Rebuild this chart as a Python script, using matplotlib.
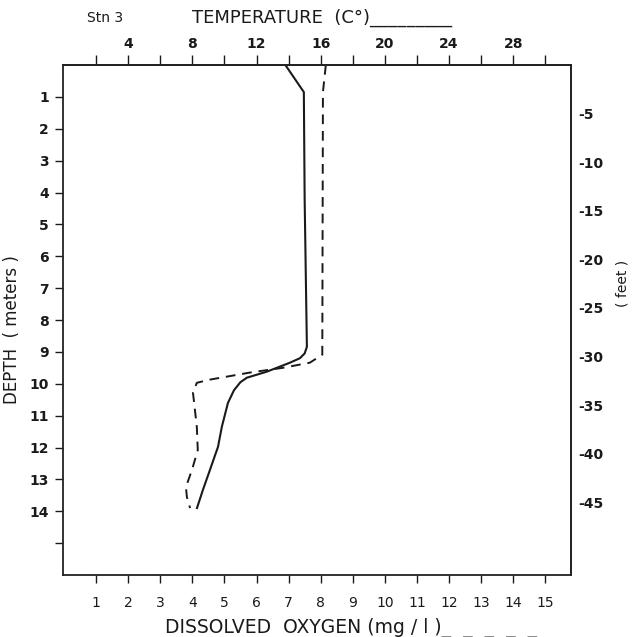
"""Station 3 profile: temperature and dissolved oxygen vs depth."""
import matplotlib as mpl
mpl.use("Agg")
import matplotlib.pyplot as plt
import numpy as np

mpl.rcParams.update({
    "font.family": "DejaVu Sans",
    "font.size": 10,
    "axes.linewidth": 1.3,
    "axes.edgecolor": "#222222",
    "figure.facecolor": "white",
})

# ----- Data -----
temp_depth = [0.0, 0.85, 4.2, 8.84, 9.05, 9.2, 9.34, 9.62, 9.81, 9.95, 10.2,
              10.6, 11.35, 11.98, 12.7, 13.33, 13.9]
temp_c = [13.8, 14.95, 15.0, 15.14, 15.0, 14.7, 14.08, 12.65, 11.4, 11.0, 10.6,
          10.22, 9.84, 9.6, 9.1, 8.66, 8.29]

do_depth = [0.0, 0.85, 9.09, 9.34, 9.5, 9.65, 9.87, 9.97, 10.28, 11.35,
            12.08, 12.7, 13.24, 13.55, 13.9]
do_mgl = [8.16, 8.07, 8.05, 7.66, 6.82, 5.79, 4.55, 4.14, 4.02, 4.14,
          4.17, 3.99, 3.8, 3.83, 3.93]

depth_ticks = list(range(1, 16))
depth_labels = [str(d) for d in range(1, 15)] + [""]
feet_ticks = [-5, -10, -15, -20, -25, -30, -35, -40, -45]
temp_major = [4, 8, 12, 16, 20, 24, 28]
temp_minor = [2, 6, 10, 14, 18, 22, 26, 30]
do_ticks = list(range(1, 16))

INK = "#1a1a1a"

fig = plt.figure(figsize=(6.35, 6.37), dpi=100)
ax = fig.add_axes([63 / 635, 1 - 575 / 637, 508 / 635, 510 / 637])

# temperature drawn on the DO scale (1 mg/l == 2 C)
ax.plot(np.array(temp_c) / 2, temp_depth, color=INK, lw=1.5)
ax.plot(do_mgl, do_depth, color=INK, lw=1.4, ls=(0, (5, 3.5)))

ax.set_xlim(-0.03, 15.8)
ax.set_ylim(16.0, 0)

# bottom: dissolved oxygen
ax.set_xticks(do_ticks)
ax.set_xticklabels([str(v) for v in do_ticks], fontsize=10)
ax.tick_params(axis="x", direction="out", length=6, width=1.0, pad=9, colors=INK)

# left: depth in meters
ax.set_yticks(depth_ticks)
ax.set_yticklabels(depth_labels, fontsize=10, fontweight="bold")
ax.tick_params(axis="y", direction="out", length=6, width=1.0, pad=4, colors=INK)

# top: temperature
top = ax.secondary_xaxis("top", functions=(lambda d: 2 * d, lambda t: t / 2))
top.set_xticks(temp_major)
top.set_xticklabels([str(v) for v in temp_major], fontsize=10, fontweight="bold")
top.set_xticks(temp_minor, minor=True)
top.tick_params(axis="x", which="both", direction="out", length=7, width=1.0,
                pad=3, colors=INK)

# right: depth in feet
right = ax.secondary_yaxis("right", functions=(lambda m: -m / 0.3048,
                                               lambda f: -f * 0.3048))
right.set_yticks(feet_ticks)
right.set_yticklabels([f"-{abs(v)}" for v in feet_ticks], fontsize=10,
                      fontweight="bold")
right.tick_params(axis="y", direction="out", length=0, pad=5, colors=INK)

# titles and axis captions
fig.text(105 / 635, 1 - 18 / 637, "Stn 3", ha="center", va="center",
         fontsize=10, color=INK)
fig.text(192 / 635, 1 - 18 / 637, "TEMPERATURE  (C°)_________", ha="left",
         va="center", fontsize=13, color=INK)
fig.text(165 / 635, 1 - 628 / 637, "DISSOLVED  OXYGEN (mg / l )_  _  _  _  _",
         ha="left", va="center", fontsize=13.5, color=INK)
fig.text(12 / 635, 1 - 330 / 637, "DEPTH  ( meters )", rotation=90,
         ha="center", va="center", fontsize=12, color=INK)
fig.text(623 / 635, 1 - 283 / 637, "( feet )", rotation=90,
         ha="center", va="center", fontsize=10, color=INK)

fig.savefig("out.png", dpi=100)
